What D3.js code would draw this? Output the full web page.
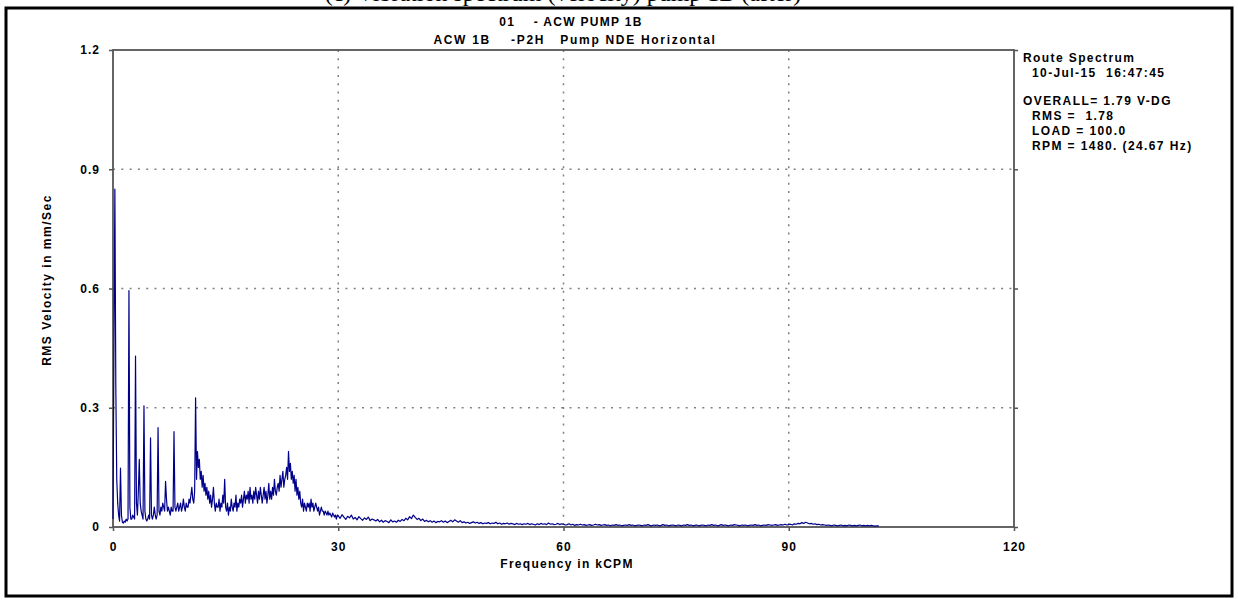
<!DOCTYPE html>
<html>
<head>
<meta charset="utf-8">
<script src="https://cdnjs.cloudflare.com/ajax/libs/d3/7.8.5/d3.min.js"></script>
<style>
  body { margin: 0; background: #fff; }
  text { font-family: "Liberation Sans", Arial, sans-serif; font-weight: bold; }
</style>
</head>
<body>
<svg id="chart"></svg>
<script>
// tick labels
var xTicks = [0, 30, 60, 90, 120];
var yTicks = [0, 0.3, 0.6, 0.9, 1.2];
var yTickLabels = ["0", "0.3", "0.6", "0.9", "1.2"];

var titleLines = ["01    - ACW PUMP 1B", "ACW 1B    -P2H   Pump NDE Horizontal"];
var infoLines = [
  {t: "Route Spectrum", dx: 0},
  {t: "10-Jul-15  16:47:45", dx: 9},
  {t: "", dx: 0},
  {t: "OVERALL= 1.79 V-DG", dx: 0},
  {t: "RMS =  1.78", dx: 9},
  {t: "LOAD = 100.0", dx: 9},
  {t: "RPM = 1480. (24.67 Hz)", dx: 9}
];

// spectrum, 0 - 30 kCPM, one value every 0.125 kCPM
var lowStep = 0.125;
var lowBand = [
  0.02, 0.45, 0.85, 0.35, 0.12, 0.06, 0.03, 0.015,
  0.148, 0.03, 0.012, 0.01, 0.015, 0.012, 0.02, 0.015,
  0.02, 0.595, 0.05, 0.02, 0.02, 0.03, 0.025, 0.02,
  0.43, 0.06, 0.03, 0.09, 0.17, 0.06, 0.04, 0.03,
  0.02, 0.305, 0.04, 0.02, 0.015, 0.02, 0.03, 0.02,
  0.224, 0.03, 0.02, 0.03, 0.05, 0.03, 0.02, 0.03,
  0.25, 0.04, 0.03, 0.05, 0.04, 0.06, 0.05, 0.04,
  0.115, 0.07, 0.04, 0.05, 0.04, 0.03, 0.05, 0.04,
  0.04, 0.24, 0.05, 0.04, 0.05, 0.06, 0.04, 0.05,
  0.06, 0.04, 0.05, 0.07, 0.05, 0.04, 0.06, 0.05,
  0.05, 0.07, 0.06, 0.08, 0.1, 0.07, 0.06, 0.09,
  0.325, 0.12, 0.19, 0.15, 0.17, 0.12, 0.14, 0.1,
  0.13, 0.09, 0.11, 0.08, 0.1, 0.07, 0.09, 0.06,
  0.08, 0.05, 0.07, 0.1, 0.06, 0.04, 0.06, 0.05,
  0.05, 0.07, 0.04, 0.06, 0.05, 0.08, 0.06, 0.12,
  0.05, 0.04, 0.06, 0.03, 0.05, 0.04, 0.07, 0.05,
  0.04, 0.06, 0.05, 0.08, 0.04, 0.06, 0.05, 0.07,
  0.06, 0.08, 0.05, 0.07, 0.09, 0.06, 0.08, 0.07,
  0.09, 0.06, 0.1, 0.07, 0.08, 0.06, 0.09, 0.07,
  0.1, 0.08, 0.06, 0.09, 0.07, 0.1, 0.08, 0.06,
  0.08, 0.1, 0.07, 0.09, 0.06, 0.08, 0.11, 0.07,
  0.09, 0.07, 0.1, 0.08, 0.12, 0.09, 0.08, 0.1,
  0.11, 0.09, 0.13, 0.1, 0.12, 0.14, 0.1, 0.12,
  0.13, 0.15, 0.12, 0.19, 0.14, 0.16, 0.12, 0.14,
  0.11, 0.13, 0.09, 0.12, 0.08, 0.1, 0.07, 0.09,
  0.06, 0.05, 0.07, 0.04, 0.06, 0.05, 0.04, 0.06,
  0.05, 0.06, 0.04, 0.07, 0.05, 0.06, 0.04, 0.05,
  0.06, 0.05, 0.04, 0.05, 0.03, 0.04, 0.05, 0.04,
  0.04, 0.03, 0.04, 0.035, 0.03, 0.04, 0.03, 0.035,
  0.03, 0.025, 0.035, 0.03, 0.025, 0.03, 0.02, 0.03
];

// spectrum, 30 - 102 kCPM, one value every 0.25 kCPM
var highStart = 30, highStep = 0.25;
var highBand = [
  0.028,0.022,0.031,0.025,0.019,0.027,0.023,0.03,0.02,0.024,0.018,0.026,0.021,0.017,0.023,0.019,0.025,0.016,0.02,0.018,
  0.015,0.019,0.013,0.017,0.012,0.016,0.014,0.011,0.018,0.013,0.015,0.012,0.017,0.014,0.019,0.016,0.022,0.018,0.026,0.021,
  0.03,0.024,0.019,0.022,0.016,0.02,0.014,0.017,0.013,0.016,0.012,0.015,0.011,0.014,0.013,0.016,0.012,0.015,0.011,0.014,
  0.017,0.013,0.018,0.015,0.012,0.016,0.011,0.013,0.01,0.012,0.009,0.011,0.013,0.01,0.012,0.009,0.011,0.008,0.01,0.009,
  0.011,0.008,0.01,0.009,0.012,0.008,0.01,0.007,0.009,0.008,0.01,0.007,0.009,0.008,0.006,0.009,0.007,0.008,0.006,0.008,
  0.007,0.009,0.006,0.008,0.007,0.005,0.008,0.006,0.009,0.007,0.008,0.006,0.01,0.007,0.008,0.006,0.007,0.009,0.006,0.008,
  0.007,0.005,0.006,0.008,0.005,0.007,0.004,0.006,0.005,0.007,0.005,0.006,0.004,0.005,0.006,0.004,0.005,0.007,0.005,0.006,
  0.004,0.005,0.006,0.004,0.005,0.003,0.005,0.004,0.006,0.004,0.005,0.003,0.004,0.005,0.004,0.006,0.004,0.005,0.003,0.004,
  0.005,0.004,0.003,0.005,0.004,0.006,0.004,0.003,0.005,0.004,0.005,0.003,0.004,0.006,0.004,0.005,0.003,0.004,0.005,0.004,
  0.003,0.005,0.004,0.003,0.005,0.004,0.006,0.004,0.005,0.003,0.004,0.005,0.003,0.004,0.005,0.004,0.003,0.005,0.004,0.006,
  0.004,0.005,0.003,0.004,0.006,0.004,0.005,0.004,0.003,0.005,0.004,0.006,0.005,0.004,0.003,0.005,0.004,0.005,0.003,0.004,
  0.005,0.004,0.006,0.004,0.005,0.003,0.004,0.005,0.004,0.006,0.005,0.004,0.005,0.006,0.004,0.005,0.006,0.005,0.007,0.005,
  0.006,0.007,0.005,0.008,0.007,0.009,0.008,0.011,0.009,0.012,0.01,0.008,0.009,0.007,0.008,0.006,0.007,0.005,0.006,0.005,
  0.004,0.005,0.004,0.003,0.005,0.004,0.003,0.004,0.005,0.003,0.004,0.003,0.005,0.004,0.003,0.004,0.003,0.004,0.005,0.003,
  0.004,0.003,0.004,0.003,0.004,0.003,0.002,0.003,0.003
];

var W = 1238, H = 607;
var svg = d3.select("#chart").attr("width", W).attr("height", H);

var x = d3.scaleLinear().domain([0, 120]).range([113, 1014]);
var y = d3.scaleLinear().domain([0, 1.2]).range([527, 50]);

var points = [];
lowBand.forEach(function(v, i){ points.push([i * lowStep, v]); });
highBand.forEach(function(v, i){ points.push([highStart + i * highStep, v]); });

// caption of the page, cut off above the frame
svg.append("text")
  .attr("x", 563).attr("y", 1)
  .attr("text-anchor", "middle")
  .style("font-family", "'Liberation Serif', serif")
  .style("font-weight", "normal")
  .style("font-size", "24px")
  .text("(c) Vibration spectrum (velocity) pump 1B (after)");

// outer frame
svg.append("rect")
  .attr("x", 6).attr("y", 8)
  .attr("width", 1226).attr("height", 588)
  .attr("fill", "none").attr("stroke", "#000").attr("stroke-width", 3);

// grid
var grid = svg.append("g").attr("stroke", "#808080").attr("stroke-width", 1.5).attr("stroke-dasharray", "2,6.3");
grid.selectAll(".gx").data(xTicks.slice(1, -1)).enter().append("line")
  .attr("x1", function(d){ return x(d); }).attr("x2", function(d){ return x(d); })
  .attr("y1", y(1.2)).attr("y2", y(0));
grid.selectAll(".gy").data(yTicks.slice(1, -1)).enter().append("line")
  .attr("y1", function(d){ return y(d); }).attr("y2", function(d){ return y(d); })
  .attr("x1", x(0)).attr("x2", x(120));

// axes
var axisStyle = function(g){
  g.selectAll("path, line").attr("stroke", "#555").attr("stroke-width", 1.5);
  g.selectAll("text").attr("fill", "#000").style("font-size", "12px").style("letter-spacing", "1px");
};
svg.append("g").attr("transform", "translate(0," + y(0) + ")")
  .call(d3.axisBottom(x).tickValues(xTicks).tickSize(4).tickSizeOuter(0).tickPadding(11).tickFormat(d3.format("d")))
  .call(axisStyle)
  .call(function(g){ g.select(".domain").remove(); });
svg.append("g").attr("transform", "translate(" + x(0) + ",0)")
  .call(d3.axisLeft(y).tickValues(yTicks).tickSize(4).tickSizeOuter(0).tickPadding(9)
    .tickFormat(function(d, i){ return yTickLabels[i]; }))
  .call(axisStyle)
  .call(function(g){ g.select(".domain").remove(); });
svg.append("g").attr("transform", "translate(" + x(120) + ",0)")
  .call(d3.axisRight(y).tickValues(yTicks).tickSize(4).tickSizeOuter(0).tickFormat(""))
  .call(axisStyle)
  .call(function(g){ g.select(".domain").remove(); });

// plot frame
svg.append("rect")
  .attr("x", x(0)).attr("y", y(1.2))
  .attr("width", x(120) - x(0)).attr("height", y(0) - y(1.2))
  .attr("fill", "none").attr("stroke", "#555").attr("stroke-width", 1.8);

// spectrum trace
svg.append("path")
  .datum(points)
  .attr("fill", "none")
  .attr("stroke", "#00008b")
  .attr("stroke-width", 1.2)
  .attr("stroke-linejoin", "round")
  .attr("d", d3.line().x(function(d){ return x(d[0]); }).y(function(d){ return y(d[1]); }));

// titles
svg.selectAll(".title").data(titleLines).enter().append("text")
  .attr("x", function(d, i){ return i ? 575 : 571; })
  .attr("y", function(d, i){ return 26 + i * 18; })
  .attr("text-anchor", "middle")
  .style("font-size", "12px").style("letter-spacing", function(d, i){ return i ? "1.7px" : "1.3px"; })
  .style("white-space", "pre")
  .text(function(d){ return d; });

// axis labels
svg.append("text")
  .attr("x", 567).attr("y", 568)
  .attr("text-anchor", "middle")
  .style("font-size", "12px").style("letter-spacing", "1.3px")
  .text("Frequency in kCPM");
svg.append("text")
  .attr("transform", "translate(51,280) rotate(-90)")
  .attr("text-anchor", "middle")
  .style("font-size", "12px").style("letter-spacing", "1.5px")
  .text("RMS Velocity in mm/Sec");

// info panel
svg.selectAll(".info").data(infoLines).enter().append("text")
  .attr("x", function(d){ return 1023 + d.dx; })
  .attr("y", function(d, i){ return i < 2 ? 62 + i * 15 : 60 + i * 15; })
  .style("font-size", "12px").style("letter-spacing", "1.4px")
  .style("white-space", "pre")
  .text(function(d){ return d.t; });
</script>
</body>
</html>
